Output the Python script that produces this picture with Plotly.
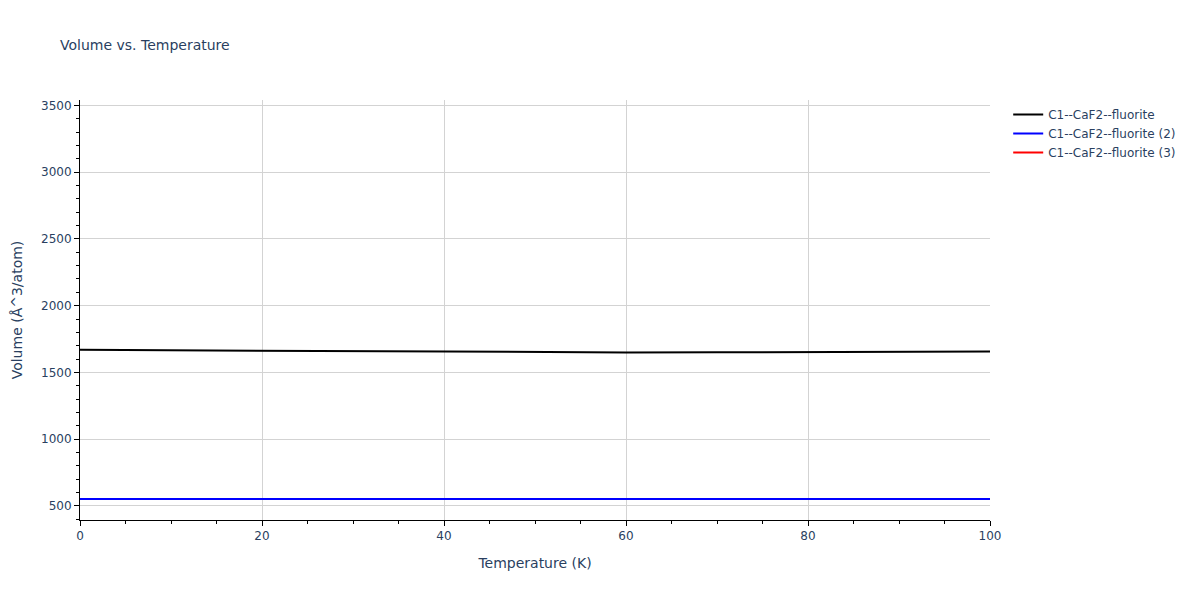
import plotly.graph_objects as go

# Volume vs temperature
temps = [0, 10, 20, 30, 40, 50, 60, 70, 80, 90, 100]
vol_1 = [1669, 1665, 1661, 1657, 1653, 1650, 1650, 1651, 1653, 1655, 1657]
vol_2 = [552, 552, 552, 552, 552, 552, 552, 552, 552, 552, 552]
# third series has no visible values in the reference
temps_3 = [0]
vol_3 = [None]

fig = go.Figure()

fig.add_trace(go.Scatter(x=temps, y=vol_1, mode='lines',
                         line=dict(color='black', width=2),
                         name='C1--CaF2--fluorite'))
fig.add_trace(go.Scatter(x=temps, y=vol_2, mode='lines',
                         line=dict(color='blue', width=2),
                         name='C1--CaF2--fluorite (2)'))
fig.add_trace(go.Scatter(x=temps_3, y=vol_3, mode='lines',
                         line=dict(color='red', width=2),
                         name='C1--CaF2--fluorite (3)', showlegend=True))

axis_style = dict(showline=True, linecolor='black', linewidth=1,
                  ticks='outside', ticklen=5, tickcolor='black',
                  showgrid=True, gridcolor='lightgrey', zeroline=False,
                  automargin=False)

fig.update_layout(
    font=dict(family='DejaVu Sans', size=12),
    title=dict(text='Volume vs. Temperature', x=52/1200, y=1 - 37/600,
               yanchor='middle', font=dict(size=14)),
    plot_bgcolor='white',
    paper_bgcolor='white',
    width=1200, height=600,
    margin=dict(l=72, r=218, t=92, b=88),
    xaxis=dict(title='Temperature (K)', range=[0, 100], dtick=20,
               minor=dict(ticks='outside', ticklen=3, dtick=5, tickcolor='black', showgrid=False),
               **axis_style),
    yaxis=dict(title='Volume (Å^3/atom)', range=[395, 3540], dtick=500,
               minor=dict(ticks='outside', ticklen=3, dtick=100, tickcolor='black', showgrid=False),
               **axis_style),
    legend=dict(x=1.02, y=1, xanchor='left', yanchor='top'),
)

fig.write_html("out.html")
